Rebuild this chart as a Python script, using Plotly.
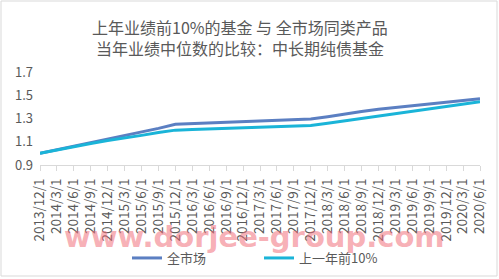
import plotly.graph_objects as go

categories = ["2013/12/1", "2014/3/1", "2014/6/1", "2014/9/1", "2014/12/1",
              "2015/3/1", "2015/6/1", "2015/9/1", "2015/12/1",
              "2016/3/1", "2016/6/1", "2016/9/1", "2016/12/1",
              "2017/3/1", "2017/6/1", "2017/9/1", "2017/12/1",
              "2018/3/1", "2018/6/1", "2018/9/1", "2018/12/1",
              "2019/3/1", "2019/6/1", "2019/9/1", "2019/12/1",
              "2020/3/1", "2020/6/1"]
full_market = [1.00, 1.03, 1.06, 1.09, 1.12, 1.15, 1.18, 1.215, 1.25,
               1.255, 1.26, 1.265, 1.27, 1.275, 1.28, 1.287, 1.295,
               1.315, 1.34, 1.36, 1.38, 1.395, 1.41, 1.425, 1.44, 1.455, 1.47]
top10 = [1.00, 1.03, 1.055, 1.085, 1.11, 1.13, 1.155, 1.18, 1.20,
         1.205, 1.21, 1.215, 1.22, 1.225, 1.23, 1.235, 1.24,
         1.26, 1.28, 1.30, 1.32, 1.34, 1.36, 1.38, 1.40, 1.42, 1.445]
title_lines = ["上年业绩前10%的基金 与 全市场同类产品", "当年业绩中位数的比较：中长期纯债基金"]

font = "Noto Sans CJK SC"
gray = "#595959"

# plot area: x 40..480 px, y 72..165 px
def px(xp):
    return (xp - 40) / 440

def py(yp):
    return (165 - yp) / 93

fig = go.Figure()
fig.add_trace(go.Scatter(x=categories, y=full_market, mode="lines", name="全市场",
                         line=dict(color="#5b7fc2", width=3), legend="legend"))
fig.add_trace(go.Scatter(x=categories, y=top10, mode="lines", name="上一年前10%",
                         line=dict(color="#1ab4d8", width=3), legend="legend2"))

leg_common = dict(orientation="h", yanchor="middle", y=py(258), xanchor="left",
                  font=dict(size=13, color=gray, family=font), itemwidth=30,
                  bgcolor="rgba(0,0,0,0)", borderwidth=0)

fig.update_layout(
    width=499, height=279,
    margin=dict(l=40, r=19, t=72, b=114, autoexpand=False),
    paper_bgcolor="white", plot_bgcolor="white",
    font=dict(family=font, color=gray, size=12),
    showlegend=True,
    legend=dict(x=px(127), **leg_common),
    legend2=dict(x=px(259), **leg_common),
    xaxis=dict(type="category", range=[0, 26], showgrid=False, showline=True,
               linecolor="#d9d9d9", linewidth=1, ticks="outside", ticklen=5,
               tickcolor="#d9d9d9", tickangle=-90, tickfont=dict(size=13.5, color=gray),
               ticklabelstandoff=2, fixedrange=True, automargin=False),
    yaxis=dict(range=[0.9, 1.7], tickvals=[0.9, 1.1, 1.3, 1.5, 1.7],
               ticktext=["0.9", "1.1", "1.3", "1.5", "1.7"], showgrid=False,
               zeroline=False, showline=False, tickfont=dict(size=13, color=gray),
               ticklabelstandoff=6, automargin=False),
)

for line, yc in zip(title_lines, [27, 48]):
    fig.add_annotation(text=line, xref="paper", yref="paper", x=px(240), y=py(yc),
                       xanchor="center", yanchor="middle", showarrow=False,
                       font=dict(size=16, color=gray, family=font))

fig.add_annotation(text="<b>www.dorjee-group.com</b>", xref="paper", yref="paper",
                   x=px(254), y=py(237), xanchor="center", yanchor="middle", showarrow=False,
                   font=dict(size=29, color="rgba(240,110,120,0.55)", family="DejaVu Sans"))

fig.add_shape(type="rect", xref="paper", yref="paper",
              x0=px(1), x1=px(497), y0=py(276), y1=py(1),
              line=dict(color="#d9d9d9", width=1), fillcolor="rgba(0,0,0,0)")

fig.write_html("out.html")
